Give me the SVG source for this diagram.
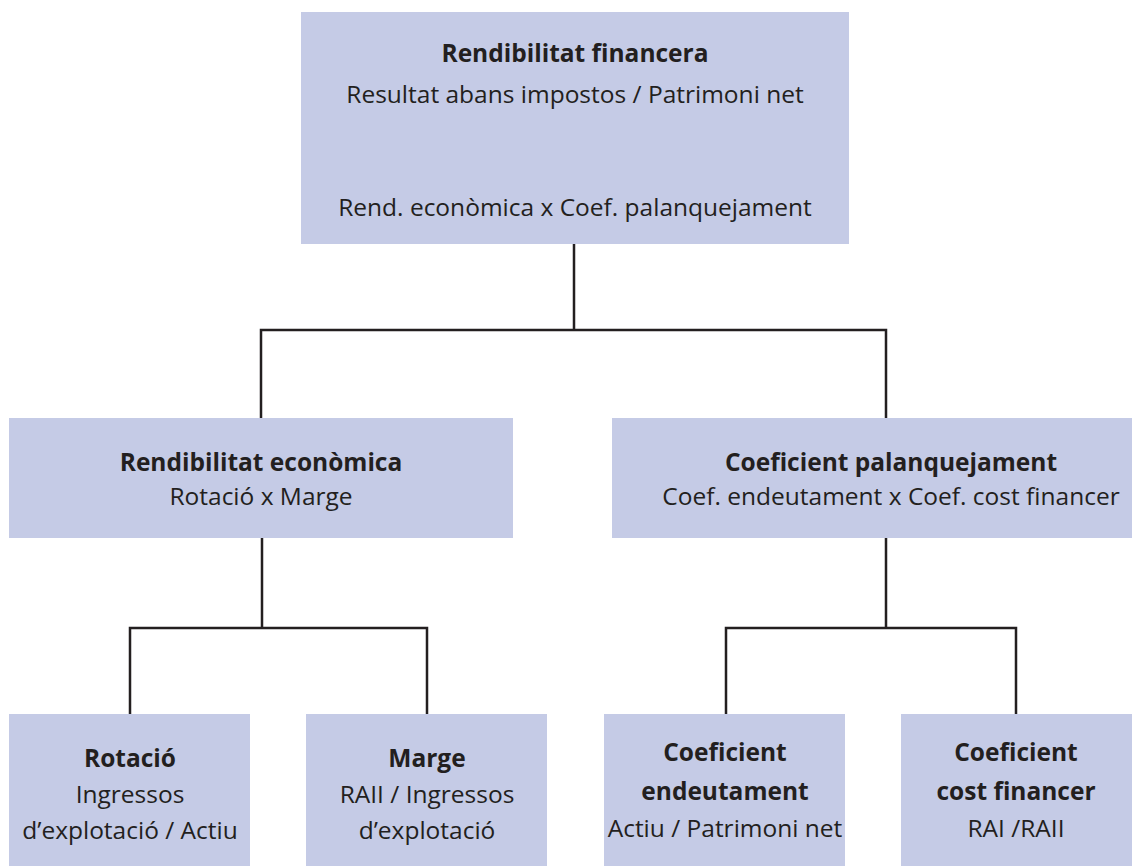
<svg xmlns="http://www.w3.org/2000/svg" width="1132" height="866" viewBox="0 0 1132 866">
<style>
.box{fill:#c5cbe6}
.t{font-family:"Open Sans","Liberation Sans",sans-serif;font-size:24.5px;fill:#231f20;text-anchor:middle}
.b{font-weight:bold}
.c{fill:none;stroke:#231f20;stroke-width:2.5}
</style>
<rect width="1132" height="866" fill="#fff"/>
<g id="connectors">
<path class="c" d="M574,244V330M261,418V330H886V418"/>
<path class="c" d="M262,538V628M130,714V628H427V714"/>
<path class="c" d="M886,538V628M726,714V628H1016V714"/>
</g>
<g id="n-fin">
<rect class="box" x="301" y="12" width="548" height="232"/>
<text class="t b" x="575" y="62">Rendibilitat financera</text>
<text class="t" x="575" y="103">Resultat abans impostos / Patrimoni net</text>
<text class="t" x="575" y="216">Rend. econòmica x Coef. palanquejament</text>
</g>
<g id="n-eco">
<rect class="box" x="9" y="418" width="504" height="120"/>
<text class="t b" x="261" y="471">Rendibilitat econòmica</text>
<text class="t" x="261" y="505">Rotació x Marge</text>
</g>
<g id="n-pal">
<rect class="box" x="612" y="418" width="520" height="120"/>
<text class="t b" x="891" y="471">Coeficient palanquejament</text>
<text class="t" x="891" y="505">Coef. endeutament x Coef. cost financer</text>
</g>
<g id="n-rot">
<rect class="box" x="9" y="714" width="241" height="152"/>
<text class="t b" x="130" y="767">Rotació</text>
<text class="t" x="130" y="803">Ingressos</text>
<text class="t" x="130" y="839">d’explotació / Actiu</text>
</g>
<g id="n-mar">
<rect class="box" x="306" y="714" width="241" height="152"/>
<text class="t b" x="427" y="767">Marge</text>
<text class="t" x="427" y="803">RAII / Ingressos</text>
<text class="t" x="427" y="839">d’explotació</text>
</g>
<g id="n-end">
<rect class="box" x="604" y="714" width="241" height="152"/>
<text class="t b" x="725" y="761">Coeficient</text>
<text class="t b" x="725" y="800">endeutament</text>
<text class="t" x="725" y="837">Actiu / Patrimoni net</text>
</g>
<g id="n-cost">
<rect class="box" x="901" y="714" width="231" height="152"/>
<text class="t b" x="1016" y="761">Coeficient</text>
<text class="t b" x="1016" y="800">cost financer</text>
<text class="t" x="1016" y="837">RAI /RAII</text>
</g>
</svg>
